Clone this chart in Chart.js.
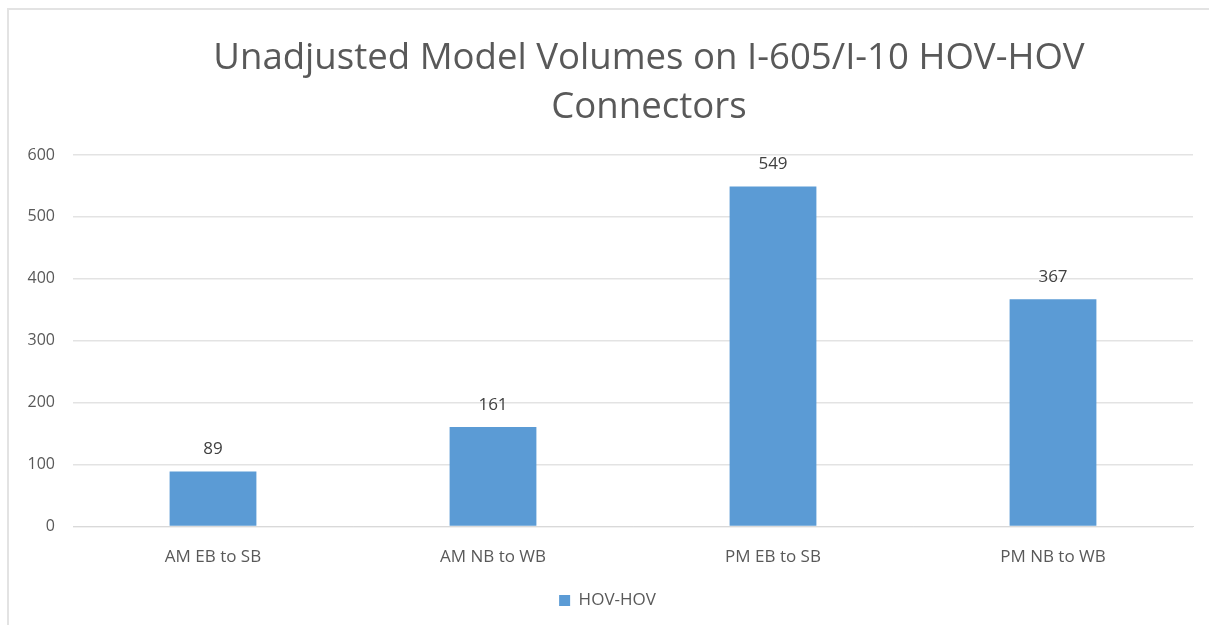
<!DOCTYPE html>
<html>
<head>
<meta charset="utf-8">
<script src="https://cdn.jsdelivr.net/npm/chart.js@4.4.1/dist/chart.umd.min.js"></script>
<style>
  html, body { margin: 0; padding: 0; background: #ffffff; }
  #frame {
    position: absolute; left: 7px; top: 8px; width: 1200px; height: 640px;
    border-top: 2px solid #e3e3e3; border-left: 2px solid #e3e3e3;
  }
  #wrap { position: absolute; left: 0; top: 0; width: 1210px; height: 625px; }
</style>
</head>
<body>
<div id="frame"></div>
<div id="wrap"><canvas id="chart" width="1210" height="625"></canvas></div>
<script>
// Connector movements and their unadjusted model volumes
const categories = ['AM EB to SB', 'AM NB to WB', 'PM EB to SB', 'PM NB to WB'];
const hovVolumes = [89, 161, 549, 367];
const seriesName = 'HOV-HOV';
const yTicks = [0, 100, 200, 300, 400, 500, 600];
const titleLines = ['Unadjusted Model Volumes on I-605/I-10 HOV-HOV', 'Connectors'];

const FONT = "'Open Sans', 'Liberation Sans', sans-serif";

// Two-line heading, centred a little right of the canvas middle
const heading = {
  id: 'heading',
  afterDraw(chart) {
    const ctx = chart.ctx;
    ctx.save();
    ctx.font = '36.6px ' + FONT;
    ctx.fillStyle = '#595959';
    ctx.textAlign = 'center';
    ctx.textBaseline = 'alphabetic';
    titleLines.forEach((line, i) => ctx.fillText(line, 649, 69 + i * 49));
    ctx.restore();
  }
};

// Writes each bar's value just above the bar
const valueLabels = {
  id: 'valueLabels',
  afterDatasetsDraw(chart) {
    const ctx = chart.ctx;
    const meta = chart.getDatasetMeta(0);
    ctx.save();
    ctx.font = '17px ' + FONT;
    ctx.fillStyle = '#404040';
    ctx.textAlign = 'center';
    ctx.textBaseline = 'middle';
    meta.data.forEach((bar, i) => {
      const v = chart.data.datasets[0].data[i];
      ctx.fillText(String(v), bar.x, bar.y - 22);
    });
    ctx.restore();
  }
};

// Nudges the legend block slightly to the right
const legendShift = {
  id: 'legendShift',
  afterLayout(chart) {
    chart.legend.left += 11;
    chart.legend.right += 11;
  }
};

new Chart(document.getElementById('chart'), {
  type: 'bar',
  data: {
    labels: categories,
    datasets: [{
      label: seriesName,
      data: hovVolumes,
      backgroundColor: '#5b9bd5',
      borderWidth: 0,
      barPercentage: 0.31,
      categoryPercentage: 1.0
    }]
  },
  options: {
    responsive: false,
    animation: false,
    layout: { padding: { left: 0, right: 17, top: 155, bottom: 6 } },
    plugins: {
      title: { display: false },
      legend: {
        display: true,
        position: 'bottom',
        labels: {
          color: '#595959',
          font: { family: FONT, size: 17 },
          boxWidth: 11,
          boxHeight: 11,
          padding: 13
        }
      },
      tooltip: { enabled: false }
    },
    scales: {
      x: {
        grid: { display: false },
        border: { display: true, color: '#d9d9d9', width: 1 },
        ticks: { color: '#595959', font: { family: FONT, size: 17 }, padding: 12 }
      },
      y: {
        min: 0,
        max: 600,
        afterBuildTicks(scale) { scale.ticks = yTicks.map(v => ({ value: v })); },
        afterFit(scale) { scale.width = 73; },
        grid: { color: '#e3e3e3', lineWidth: 1.5, drawTicks: false },
        border: { display: false },
        ticks: { color: '#595959', font: { family: FONT, size: 16 }, padding: 18 }
      }
    }
  },
  plugins: [heading, valueLabels, legendShift]
});
</script>
</body>
</html>
